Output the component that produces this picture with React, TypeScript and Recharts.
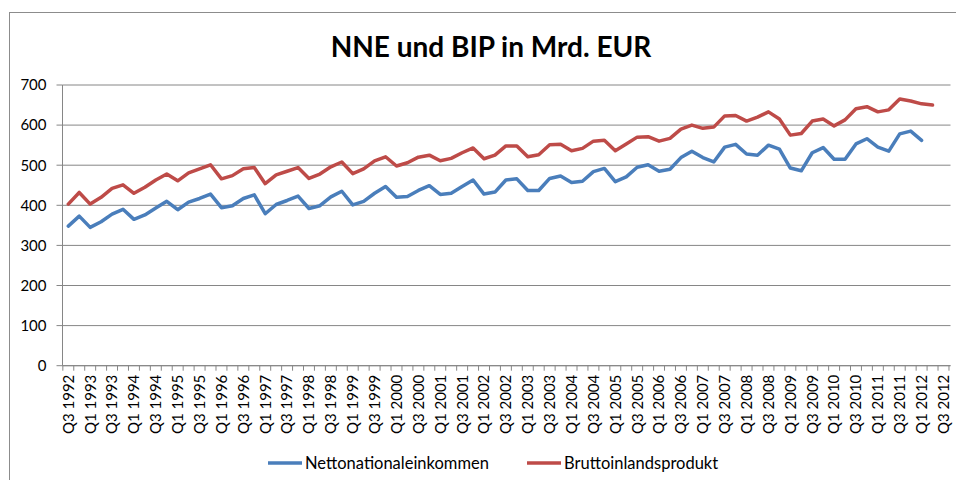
import React from 'react';
import { LineChart, Line, XAxis, YAxis, CartesianGrid, Legend } from 'recharts';

const categories: string[] = [
  'Q3 1992', 'Q4 1992',
  'Q1 1993', 'Q2 1993', 'Q3 1993', 'Q4 1993',
  'Q1 1994', 'Q2 1994', 'Q3 1994', 'Q4 1994',
  'Q1 1995', 'Q2 1995', 'Q3 1995', 'Q4 1995',
  'Q1 1996', 'Q2 1996', 'Q3 1996', 'Q4 1996',
  'Q1 1997', 'Q2 1997', 'Q3 1997', 'Q4 1997',
  'Q1 1998', 'Q2 1998', 'Q3 1998', 'Q4 1998',
  'Q1 1999', 'Q2 1999', 'Q3 1999', 'Q4 1999',
  'Q1 2000', 'Q2 2000', 'Q3 2000', 'Q4 2000',
  'Q1 2001', 'Q2 2001', 'Q3 2001', 'Q4 2001',
  'Q1 2002', 'Q2 2002', 'Q3 2002', 'Q4 2002',
  'Q1 2003', 'Q2 2003', 'Q3 2003', 'Q4 2003',
  'Q1 2004', 'Q2 2004', 'Q3 2004', 'Q4 2004',
  'Q1 2005', 'Q2 2005', 'Q3 2005', 'Q4 2005',
  'Q1 2006', 'Q2 2006', 'Q3 2006', 'Q4 2006',
  'Q1 2007', 'Q2 2007', 'Q3 2007', 'Q4 2007',
  'Q1 2008', 'Q2 2008', 'Q3 2008', 'Q4 2008',
  'Q1 2009', 'Q2 2009', 'Q3 2009', 'Q4 2009',
  'Q1 2010', 'Q2 2010', 'Q3 2010', 'Q4 2010',
  'Q1 2011', 'Q2 2011', 'Q3 2011', 'Q4 2011',
  'Q1 2012', 'Q2 2012', 'Q3 2012',
];

// Nettonationaleinkommen (Mrd. EUR)
const nne: (number | null)[] = [
  348, 373, 345, 359, 378, 390, 365, 376, 393, 410, 389, 408, 417, 428,
  394, 399, 417, 426, 379, 402, 412, 423, 392, 399, 421, 435, 401, 410,
  430, 447, 420, 422, 437, 449, 427, 430, 447, 463, 428, 433, 463, 466,
  437, 437, 467, 473, 457, 460, 484, 492, 459, 471, 495, 501, 485,
  490, 519, 535, 519, 508, 545, 552, 528, 525, 550, 540, 493, 486, 531,
  544, 515, 515, 553, 566, 545, 535, 578, 585, 562,
  null, null,
];

// Bruttoinlandsprodukt (Mrd. EUR)
const bip: (number | null)[] = [
  403, 432, 403, 420, 442, 451, 430, 445, 463, 478, 461, 481, 491, 501,
  466, 474, 491, 494, 454, 476, 485, 494, 467, 478, 496, 508, 479, 491,
  511, 521, 498, 506, 520, 525, 511, 517, 531, 543, 516, 525, 548, 548,
  521, 526, 551, 552, 536, 542, 560, 562, 536, 553, 570, 571, 560,
  567, 590, 600, 592, 595, 623, 624, 610, 620, 633, 615, 575, 579, 610,
  615, 598, 613, 641, 646, 633, 638, 665, 660, 653, 650,
  null,
];

const yTicks = [0, 100, 200, 300, 400, 500, 600, 700];
const seriesNames = ['Nettonationaleinkommen', 'Bruttoinlandsprodukt'];
const seriesKeys = ['nne', 'bip'];
const seriesColors = ['#4A7EBB', '#BE4B48'];
const title = 'NNE und BIP in Mrd. EUR';

const data = categories.map((q, i) => ({ q, nne: nne[i], bip: bip[i] }));

const FONT = 'Lato, "Noto Sans", sans-serif';
const AXIS_COLOR = '#868686';
const PAD_LEFT = 5.8;
const PAD_RIGHT = 7;
const HALF_STEP = (888 - PAD_LEFT - PAD_RIGHT) / (categories.length - 1) / 2;
const LEGEND_X = [268, 527];

const QuarterTick = (props: any) => {
  const { x, y, payload, index } = props;
  const axisY = y - 9;
  const showLabel = index % 2 === 0;
  const isLast = index === categories.length - 1;
  return (
    <g>
      <line x1={x - HALF_STEP} x2={x - HALF_STEP} y1={axisY} y2={axisY + 5} stroke={AXIS_COLOR} />
      {isLast && (
        <line x1={x + HALF_STEP} x2={x + HALF_STEP} y1={axisY} y2={axisY + 5} stroke={AXIS_COLOR} />
      )}
      {showLabel && (
        <text
          x={x}
          y={y}
          transform={`rotate(-90, ${x}, ${y})`}
          textAnchor="end"
          dy="0.36em"
          fill="#000"
          fontSize={15}
          fontFamily={FONT}
        >
          {payload.value}
        </text>
      )}
    </g>
  );
};

const LegendContent = () => (
  <div
    style={{
      position: 'relative',
      height: 20,
      width: 956,
      fontFamily: FONT,
      fontSize: 16.5,
      color: '#000',
    }}
  >
    {seriesNames.map((name, i) => (
      <div
        key={name}
        style={{
          position: 'absolute',
          left: LEGEND_X[i],
          top: 0,
          height: 20,
          display: 'flex',
          alignItems: 'center',
        }}
      >
        <svg width={34} height={6} style={{ display: 'block' }}>
          <line x1={0} x2={34} y1={3} y2={3} stroke={seriesColors[i]} strokeWidth={3.5} />
        </svg>
        <span style={{ marginLeft: 3, whiteSpace: 'nowrap' }}>{name}</span>
      </div>
    ))}
  </div>
);

export default function App() {
  return (
    <div style={{ position: 'absolute', left: 0, top: 0, width: 956, height: 480, overflow: 'hidden', background: '#fff' }}>
      <svg width={956} height={480} style={{ position: 'absolute', left: 0, top: 0 }}>
        <rect x={9.5} y={12.5} width={1000} height={1000} fill="none" stroke="#8C8C8C" />
        <text
          x={491}
          y={57}
          textAnchor="middle"
          fontFamily={FONT}
          fontWeight="bold"
          fontSize={28}
          fill="#000"
        >
          {title}
        </text>
      </svg>
      <div style={{ position: 'absolute', left: 0, top: 0 }}>
        <LineChart
          width={956}
          height={480}
          data={data}
          margin={{ top: 85, right: 5.5, left: 0, bottom: 7 }}
        >
          <CartesianGrid vertical={false} stroke={AXIS_COLOR} strokeWidth={1} />
          <XAxis
            dataKey="q"
            interval={0}
            tickLine={false}
            tickSize={5}
            tickMargin={4}
            padding={{ left: PAD_LEFT, right: PAD_RIGHT }}
            axisLine={{ stroke: AXIS_COLOR }}
            height={87.3}
            tick={<QuarterTick />}
          />
          <YAxis
            domain={[0, 700]}
            ticks={yTicks}
            interval={0}
            tickSize={6}
            tickMargin={10}
            width={62.5}
            axisLine={{ stroke: AXIS_COLOR }}
            tickLine={{ stroke: AXIS_COLOR }}
            tick={{ fill: '#000', fontSize: 15, fontFamily: FONT }}
          />
          {seriesKeys.map((k, i) => (
            <Line
              key={k}
              type="linear"
              dataKey={k}
              name={seriesNames[i]}
              stroke={seriesColors[i]}
              strokeWidth={3.5}
              dot={false}
              activeDot={false}
              isAnimationActive={false}
              strokeLinejoin="round"
              strokeLinecap="round"
            />
          ))}
          <Legend
            verticalAlign="bottom"
            content={<LegendContent />}
            wrapperStyle={{ left: 0, width: 956 }}
          />
        </LineChart>
      </div>
    </div>
  );
}
